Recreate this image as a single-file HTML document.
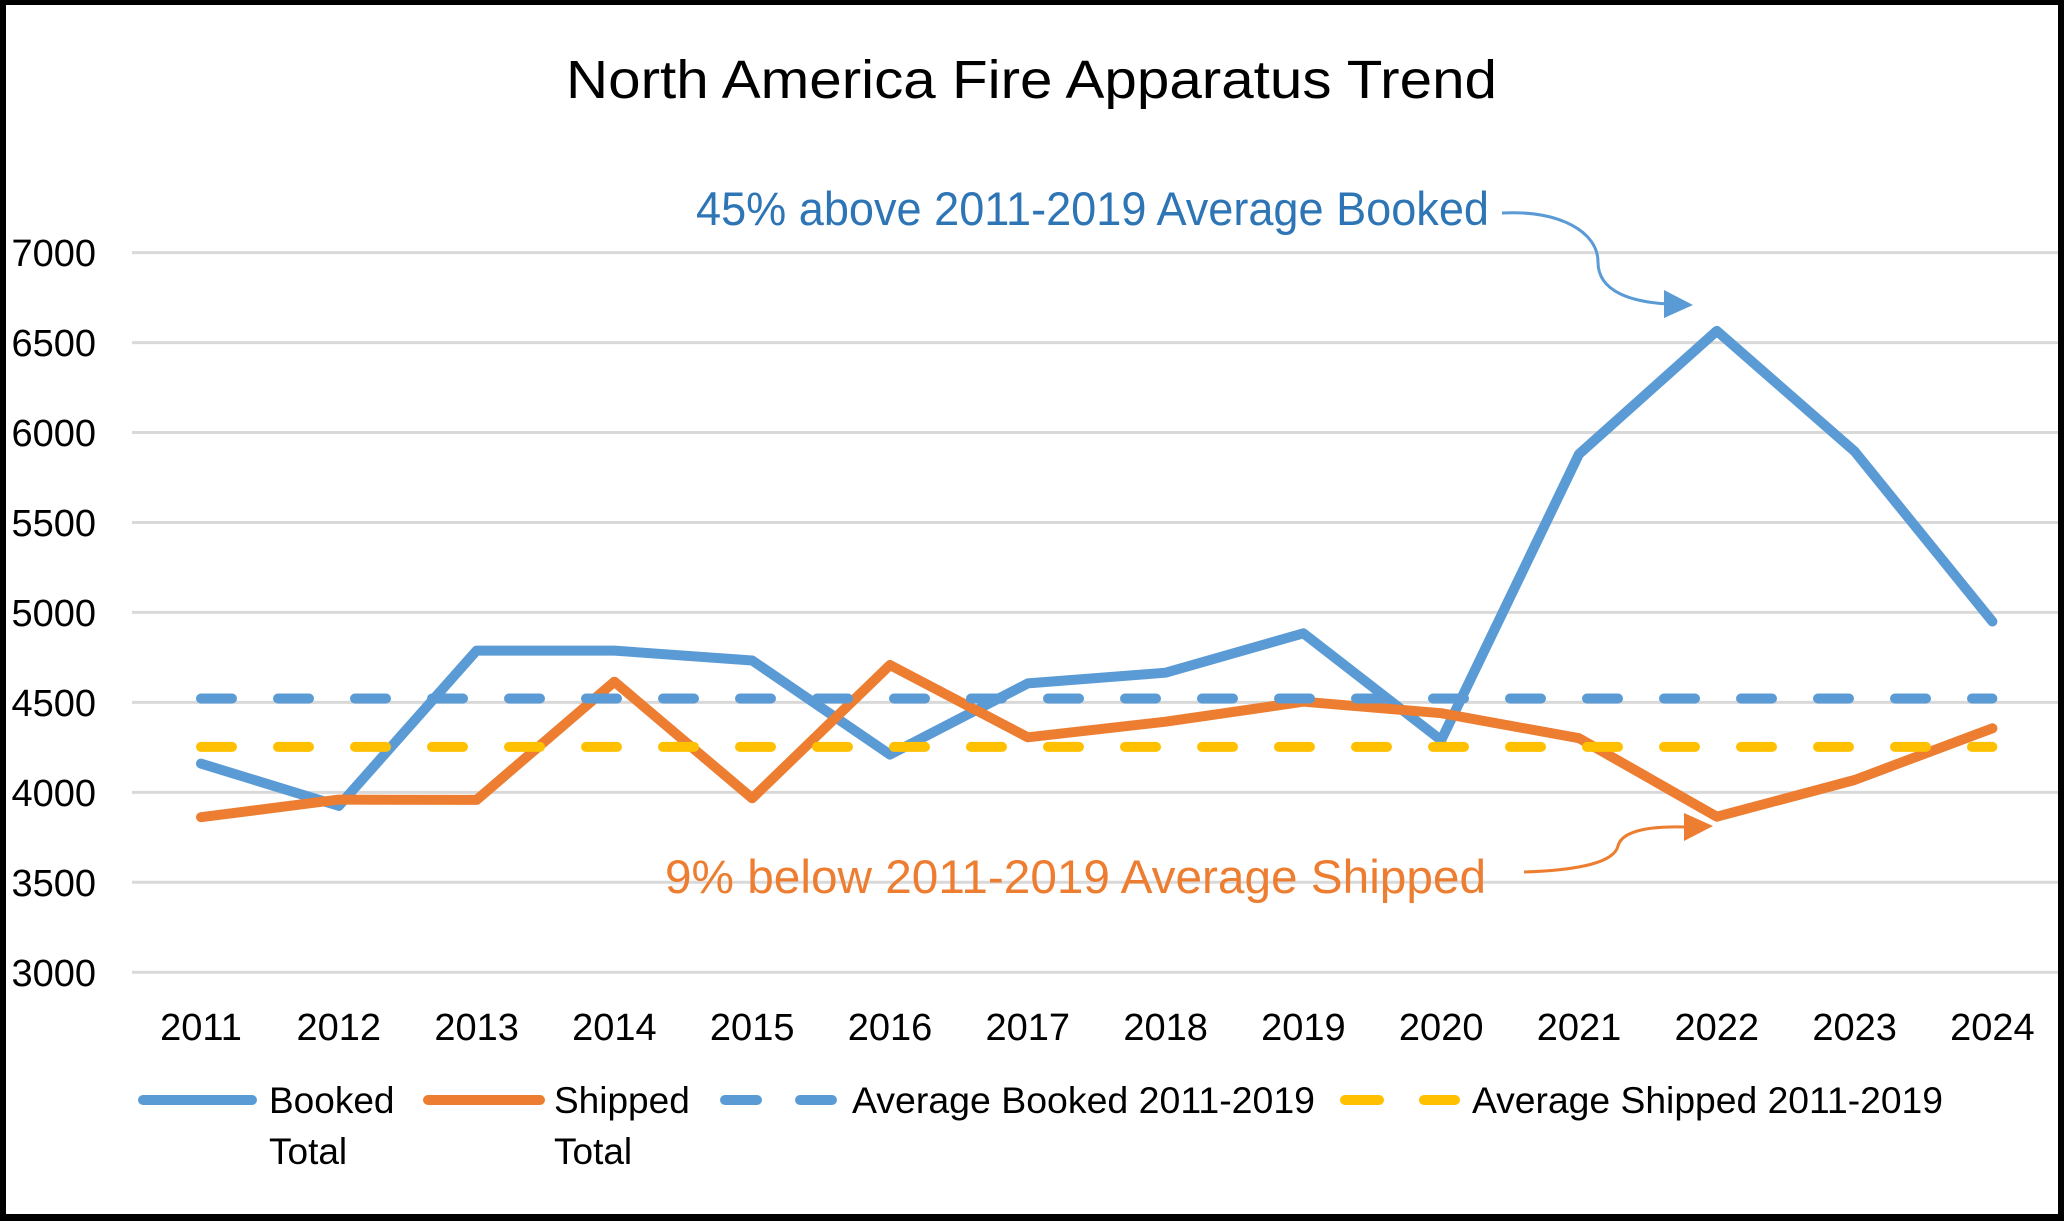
<!DOCTYPE html>
<html>
<head>
<meta charset="utf-8">
<style>
  html, body { margin: 0; padding: 0; background: #fff; }
  svg { display: block; }
  text { font-family: "Liberation Sans", Arial, sans-serif; }
</style>
</head>
<body>
<svg width="2064" height="1221" viewBox="0 0 2064 1221" xmlns="http://www.w3.org/2000/svg">
  <!-- border -->
  <rect x="0" y="0" width="2064" height="1221" fill="#000"/>
  <rect x="6" y="5" width="2052" height="1209" fill="#fff"/>

  <!-- title -->
  <text x="566" y="98" font-size="54" fill="#000" textLength="931" lengthAdjust="spacingAndGlyphs">North America Fire Apparatus Trend</text>

  <!-- gridlines -->
  <g stroke="#d9d9d9" stroke-width="3">
    <line x1="132" y1="972.3" x2="2058" y2="972.3"/>
    <line x1="132" y1="882.3" x2="2058" y2="882.3"/>
    <line x1="132" y1="792.4" x2="2058" y2="792.4"/>
    <line x1="132" y1="702.4" x2="2058" y2="702.4"/>
    <line x1="132" y1="612.4" x2="2058" y2="612.4"/>
    <line x1="132" y1="522.5" x2="2058" y2="522.5"/>
    <line x1="132" y1="432.5" x2="2058" y2="432.5"/>
    <line x1="132" y1="342.6" x2="2058" y2="342.6"/>
    <line x1="132" y1="252.6" x2="2058" y2="252.6"/>
  </g>

  <!-- y labels -->
  <g font-size="38" fill="#000" text-anchor="end">
    <text x="96" y="986">3000</text>
    <text x="96" y="896">3500</text>
    <text x="96" y="806">4000</text>
    <text x="96" y="716">4500</text>
    <text x="96" y="626">5000</text>
    <text x="96" y="536">5500</text>
    <text x="96" y="446">6000</text>
    <text x="96" y="356">6500</text>
    <text x="96" y="266">7000</text>
  </g>

  <!-- x labels -->
  <g font-size="38" fill="#000" text-anchor="middle">
    <text x="201" y="1040">2011</text>
    <text x="338.8" y="1040">2012</text>
    <text x="476.6" y="1040">2013</text>
    <text x="614.4" y="1040">2014</text>
    <text x="752.2" y="1040">2015</text>
    <text x="890" y="1040">2016</text>
    <text x="1027.8" y="1040">2017</text>
    <text x="1165.6" y="1040">2018</text>
    <text x="1303.4" y="1040">2019</text>
    <text x="1441.2" y="1040">2020</text>
    <text x="1579" y="1040">2021</text>
    <text x="1716.8" y="1040">2022</text>
    <text x="1854.6" y="1040">2023</text>
    <text x="1992.4" y="1040">2024</text>
  </g>

  <!-- Booked Total -->
  <polyline fill="none" stroke="#5B9BD5" stroke-width="10" stroke-linejoin="round" stroke-linecap="round"
    points="201,763.6 338.8,805.9 476.6,650.6 614.4,650.6 752.2,660.5 890,754.6 1027.8,683.4 1165.6,672.7 1303.4,633.3 1441.2,740.2 1579,454.1 1716.8,330.9 1854.6,451.4 1992.4,621.5"/>

  <!-- Shipped Total -->
  <polyline fill="none" stroke="#ED7D31" stroke-width="10" stroke-linejoin="round" stroke-linecap="round"
    points="201,817.2 338.8,799.6 476.6,799.9 614.4,681.7 752.2,798.3 890,665 1027.8,737.3 1165.6,721.7 1303.4,701.7 1441.2,713.2 1579,738.2 1716.8,816.7 1854.6,780 1992.4,728.3"/>

  <!-- Average Booked -->
  <line x1="201" y1="698.5" x2="1992.4" y2="698.5" stroke="#5B9BD5" stroke-width="10" stroke-linecap="round" stroke-dasharray="31 46"/>
  <!-- Average Shipped -->
  <line x1="201" y1="746.9" x2="1992.4" y2="746.9" stroke="#FFC000" stroke-width="10" stroke-linecap="round" stroke-dasharray="31 46"/>

  <!-- Annotation: booked -->
  <text x="696" y="225" font-size="47" fill="#2E75B6" textLength="793" lengthAdjust="spacingAndGlyphs">45% above 2011-2019 Average Booked</text>
  <path d="M1502,213 C1560,210 1598,232 1598,262 C1598,292 1632,302 1668,304" fill="none" stroke="#5B9BD5" stroke-width="3"/>
  <polygon points="1664,290 1693,305 1664,318" fill="#5B9BD5"/>

  <!-- Annotation: shipped -->
  <text x="665" y="893" font-size="47" fill="#ED7D31" textLength="821" lengthAdjust="spacingAndGlyphs">9% below 2011-2019 Average Shipped</text>
  <path d="M1524,872 C1582,870 1614,862 1618,846 C1622,830 1652,826 1686,827" fill="none" stroke="#ED7D31" stroke-width="3"/>
  <polygon points="1684,813 1713,826 1684,841" fill="#ED7D31"/>

  <!-- Legend -->
  <line x1="143" y1="1100" x2="252" y2="1100" stroke="#5B9BD5" stroke-width="10" stroke-linecap="round"/>
  <text x="269" y="1113" font-size="37" fill="#000">Booked</text>
  <text x="269" y="1164" font-size="37" fill="#000">Total</text>

  <line x1="428" y1="1100" x2="540" y2="1100" stroke="#ED7D31" stroke-width="10" stroke-linecap="round"/>
  <text x="554" y="1113" font-size="37" fill="#000">Shipped</text>
  <text x="554" y="1164" font-size="37" fill="#000">Total</text>

  <line x1="725" y1="1100" x2="757" y2="1100" stroke="#5B9BD5" stroke-width="10" stroke-linecap="round"/>
  <line x1="800" y1="1100" x2="832" y2="1100" stroke="#5B9BD5" stroke-width="10" stroke-linecap="round"/>
  <text x="852" y="1113" font-size="37" fill="#000" textLength="463" lengthAdjust="spacingAndGlyphs">Average Booked 2011-2019</text>

  <line x1="1345" y1="1100" x2="1379" y2="1100" stroke="#FFC000" stroke-width="10" stroke-linecap="round"/>
  <line x1="1424" y1="1100" x2="1455" y2="1100" stroke="#FFC000" stroke-width="10" stroke-linecap="round"/>
  <text x="1472" y="1113" font-size="37" fill="#000" textLength="471" lengthAdjust="spacingAndGlyphs">Average Shipped 2011-2019</text>
</svg>
</body>
</html>
